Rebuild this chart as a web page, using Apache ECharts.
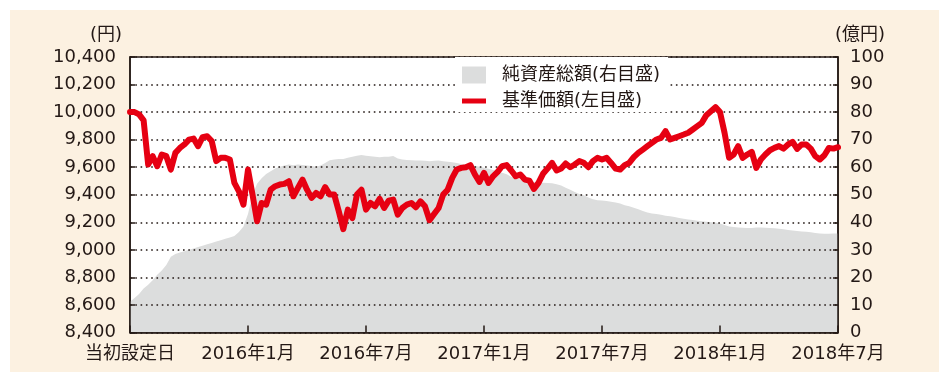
<!DOCTYPE html>
<html>
<head>
<meta charset="utf-8">
<script src="https://cdn.jsdelivr.net/npm/echarts/dist/echarts.min.js"></script>
<style>
  html, body { margin: 0; padding: 0; background: #ffffff; }
  #wrap { position: relative; width: 939px; height: 383px; overflow: hidden; }
  #panel { position: absolute; left: 10px; top: 10px; width: 929px; height: 362px; background: #fcf1e1; }
  #chart { position: absolute; left: 0; top: 0; width: 939px; height: 383px; }
</style>
</head>
<body>
<div id="wrap"><div id="panel"></div><div id="chart"></div></div>
<script>
// Weekly points, 26 weeks per half-year step on the time axis
const xTickLabels = ['当初設定日', '2016年1月', '2016年7月', '2017年1月', '2017年7月', '2018年1月', '2018年7月'];
const weeksPerStep = 26;

// 基準価額 (円), left scale
const navValues = [
  10000, 10000, 9983, 9940, 9620, 9680, 9607, 9692, 9680, 9583,
  9704, 9740, 9765, 9800, 9808, 9753, 9818, 9825, 9790, 9644,
  9668, 9668, 9656, 9486, 9425, 9328, 9583, 9400, 9207, 9340,
  9328, 9437, 9462, 9474, 9479, 9498, 9389, 9450, 9510, 9437,
  9377, 9413, 9389, 9455, 9401, 9401, 9280, 9150, 9292, 9231,
  9401, 9437, 9292, 9340, 9316, 9371, 9304, 9357, 9365, 9256,
  9304, 9328, 9340, 9309, 9352, 9316, 9215, 9260, 9304, 9401,
  9437, 9522, 9583, 9595, 9600, 9615, 9547, 9493, 9559, 9486,
  9534, 9566, 9607, 9615, 9576, 9534, 9547, 9510, 9503, 9442,
  9486, 9552, 9590, 9631, 9576, 9590, 9627, 9600, 9620, 9644,
  9632, 9600, 9644, 9668, 9656, 9668, 9631, 9590, 9583, 9615,
  9631, 9673, 9704, 9728, 9753, 9777, 9801, 9813, 9862, 9801,
  9813, 9825, 9837, 9850, 9874, 9898, 9922, 9978, 10007, 10036,
  10000, 9850, 9668, 9692, 9753, 9668, 9692, 9711, 9595, 9656,
  9692, 9723, 9740, 9753, 9735, 9765, 9784, 9733, 9765, 9765,
  9735, 9680, 9656, 9687, 9740, 9735, 9745
];

// 純資産総額 (億円), right scale
const aumValues = [
  11.2, 12.5, 14, 16, 17.3, 19, 21, 22.5, 24.5, 27.5,
  28.5, 29, 29.5, 30, 30.5, 31, 31.5, 32, 32.5, 33,
  33.5, 34, 34.5, 35, 36.5, 38.5, 43, 50, 54, 56,
  57.5, 58.5, 59.5, 60.2, 60.6, 61, 60.7, 61, 60.8, 60.6,
  60.4, 60.2, 60.6, 61.5, 62.5, 62.8, 63, 63, 63.4, 63.8,
  64.2, 64.4, 64.2, 64, 63.8, 63.6, 63.8, 63.8, 64.1, 63.2,
  62.8, 62.6, 62.5, 62.4, 62.4, 62.3, 62.2, 62.3, 62.4, 62.2,
  62, 61.8, 61.5, 61.2, 61, 60.8, 60.5, 60.2, 59.8, 59.4,
  59, 58.5, 58, 57.4, 56.5, 56, 55.5, 55, 54.8, 54.6,
  54.5, 54.4, 54.3, 54.2, 53.8, 53.4, 52.5, 51.8, 51, 50.3,
  49.8, 49, 48.4, 48, 47.9, 47.7, 47.5, 47.2, 46.8, 46.2,
  45.8, 45.3, 44.7, 44.1, 43.6, 43.2, 43, 42.7, 42.4, 42.2,
  41.9, 41.6, 41.3, 41, 40.8, 40.6, 40.4, 40.2, 40, 39.9,
  39.6, 39, 38.5, 38.3, 38.1, 38, 37.9, 37.9, 38.1, 38.1,
  38, 37.9, 37.8, 37.7, 37.5, 37.2, 37, 36.8, 36.7, 36.6,
  36.4, 36.1, 35.9, 35.8, 35.8, 35.9, 35.9
];

const navName = '基準価額(左目盛)';
const aumName = '純資産総額(右目盛)';

const ink = '#231815';
const red = '#e60012';
const gray = '#dcdddd';
const font = "'DejaVu Sans', 'Noto Sans CJK JP', sans-serif";
const lastIndex = (xTickLabels.length - 1) * weeksPerStep;

const chart = echarts.init(document.getElementById('chart'), null, { renderer: 'canvas' });

const gridDots = { type: [1.6, 3.7], color: ink, width: 1.6 };

chart.setOption({
  animation: false,
  backgroundColor: 'transparent',
  textStyle: { fontFamily: font, color: ink },
  grid: {
    left: 130, top: 57, width: 708, height: 275.5,
    show: true, backgroundColor: '#ffffff', borderColor: ink, borderWidth: 1.5,
    outerBoundsMode: 'none', containLabel: false
  },
  legend: {
    left: 455, top: 57, orient: 'vertical',
    backgroundColor: '#ffffff',
    padding: [9, 8, 2, 7],
    itemWidth: 24, itemHeight: 17, itemGap: 8,
    selectedMode: false,
    itemStyle: { borderWidth: 0 },
    textStyle: { fontSize: 18, color: ink, fontFamily: font, padding: [0, 0, 0, 11], lineHeight: 17 },
    data: [
      { name: aumName, icon: 'rect', itemStyle: { color: gray, borderWidth: 0 } },
      { name: navName, icon: 'path://M0 0H24V5H0Z', itemStyle: { color: red, borderWidth: 0 } }
    ]
  },
  xAxis: {
    type: 'value', min: 0, max: lastIndex, interval: weeksPerStep, z: 3,
    axisLine: { show: true, lineStyle: { color: ink, width: 1.5 } },
    axisTick: { show: true, inside: true, length: 7, lineStyle: { color: ink, width: 1.5 } },
    axisLabel: {
      margin: 13, fontSize: 18, color: ink, fontFamily: font,
      formatter: v => xTickLabels[Math.round(v / weeksPerStep)] || ''
    },
    splitLine: { show: false }
  },
  yAxis: [
    {
      type: 'value', min: 8400, max: 10400, interval: 200, position: 'left', z: 3,
      name: '(円)', nameLocation: 'end', nameGap: 13,
      nameTextStyle: { fontSize: 18, color: ink, fontFamily: font, align: 'right', padding: [0, 8, 0, 0] },
      axisLine: { show: true, lineStyle: { color: ink, width: 1.5 } },
      axisTick: { show: true, inside: true, length: 5, lineStyle: { color: ink, width: 1.5 } },
      axisLabel: {
        margin: 14, fontSize: 18, color: ink, fontFamily: font,
        formatter: v => v.toLocaleString('en-US')
      },
      splitLine: { show: true, lineStyle: gridDots }
    },
    {
      type: 'value', min: 0, max: 100, interval: 10, position: 'right', z: 3,
      name: '(億円)', nameLocation: 'end', nameGap: 13,
      nameTextStyle: { fontSize: 18, color: ink, fontFamily: font, align: 'center', padding: [0, 0, 0, 44] },
      axisLine: { show: true, lineStyle: { color: ink, width: 1.5 } },
      axisTick: { show: true, inside: true, length: 5, lineStyle: { color: ink, width: 1.5 } },
      axisLabel: { margin: 12, fontSize: 18, color: ink, fontFamily: font },
      splitLine: { show: false }
    }
  ],
  series: [
    {
      name: aumName, type: 'line', yAxisIndex: 1, z: 1,
      data: aumValues.map((v, i) => [i, v]),
      symbol: 'none', showSymbol: false, silent: true,
      itemStyle: { color: gray },
      lineStyle: { width: 0, color: gray },
      areaStyle: { color: gray, opacity: 1 }
    },
    {
      name: navName, type: 'line', yAxisIndex: 0, z: 5,
      data: navValues.map((v, i) => [i, v]),
      symbol: 'none', showSymbol: false, silent: true,
      itemStyle: { color: red },
      lineStyle: { width: 6, color: red, join: 'round', cap: 'round' }
    }
  ]
});
</script>
</body>
</html>
